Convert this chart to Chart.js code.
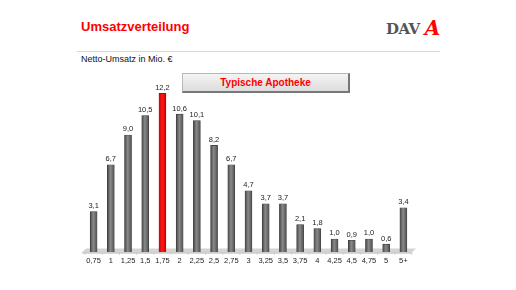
<!DOCTYPE html>
<html>
<head>
<meta charset="utf-8">
<script src="https://cdn.jsdelivr.net/npm/chart.js@4/dist/chart.umd.min.js"></script>
<style>
    html, body { margin: 0; padding: 0; background: #fff; }
    body { width: 516px; height: 290px; position: relative; overflow: hidden; font-family: 'Liberation Sans', Arial, sans-serif; }
    #chart { position: absolute; left: 0; top: 0; }
    .title { position: absolute; left: 81px; top: 19px; font-size: 13px; font-weight: bold; color: #f00; }
    .rule { position: absolute; left: 77px; top: 51px; width: 363px; height: 1px; background: #d8d8d8; }
    .subtitle { position: absolute; left: 81px; top: 54px; font-size: 9px; color: #111; }
    .badge {
        position: absolute; left: 182px; top: 73px; width: 165px; height: 17px;
        background: linear-gradient(#f4f4f4, #dcdcdc);
        border: 1px solid #b8b8b8; border-right: 2px solid #777; border-bottom: 2px solid #777;
        color: #f00; font-size: 10px; font-weight: bold; text-align: center; line-height: 17px;
    }
    .logo { position: absolute; left: 386px; top: 15px; font-family: 'DejaVu Serif', serif; font-weight: bold; font-size: 15px; color: #555; letter-spacing: -0.5px; }
    .logo span { color: #f00; font-size: 20px; margin-left: 5px; font-style: italic; position: relative; top: 1px; }
</style>
</head>
<body>
<div class="title">Umsatzverteilung</div>
<div class="logo">DAV<span>A</span></div>
<div class="rule"></div>
<div class="subtitle">Netto-Umsatz in Mio. €</div>
<canvas id="chart" width="516" height="290"></canvas>
<div class="badge">Typische Apotheke</div>
<script>
// Umsatzklassen (Mio. €) und Anteil der Apotheken
const categories = ['0,75', '1', '1,25', '1,5', '1,75', '2', '2,25', '2,5', '2,75', '3', '3,25', '3,5', '3,75', '4', '4,25', '4,5', '4,75', '5', '5+'];
const values = [3.1, 6.7, 9.0, 10.5, 12.2, 10.6, 10.1, 8.2, 6.7, 4.7, 3.7, 3.7, 2.1, 1.8, 1.0, 0.9, 1.0, 0.6, 3.4];
const highlightIndex = 4;

const FONT = "'Liberation Sans', Arial, sans-serif";

function formatValue(v) {
    return v.toFixed(1).replace('.', ',');
}

function barGradient(context) {
    const chart = context.chart;
    const xScale = chart.scales.x;
    if (!chart.chartArea || !xScale) return '#7a7a7a';
    const cx = xScale.getPixelForValue(context.dataIndex);
    const g = chart.ctx.createLinearGradient(cx - 3.5, 0, cx + 3.5, 0);
    if (context.dataIndex === highlightIndex) {
        g.addColorStop(0, '#c80000');
        g.addColorStop(0.45, '#ff1a1a');
        g.addColorStop(1, '#d00000');
    } else {
        g.addColorStop(0, '#464646');
        g.addColorStop(0.45, '#8a8a8a');
        g.addColorStop(1, '#505050');
    }
    return g;
}

// grauer 3D-Boden unter den Säulen
const floorPlugin = {
    id: 'floor',
    beforeDatasetsDraw(chart) {
        const { ctx, chartArea } = chart;
        const xScale = chart.scales.x;
        const y = chartArea.bottom;
        const x0 = chartArea.left - 3;
        const x1 = chartArea.right;
        ctx.save();
        ctx.beginPath();
        ctx.moveTo(x0, y + 0.5);
        ctx.lineTo(x0 + 4, y - 3.5);
        ctx.lineTo(x1 + 4, y - 3.5);
        ctx.lineTo(x1, y + 0.5);
        ctx.closePath();
        ctx.fillStyle = '#d4d4d4';
        ctx.fill();
        ctx.fillStyle = '#b4b4b4';
        ctx.fillRect(x0, y + 0.5, x1 - x0, 1);
        // kleine Trennstriche zwischen den Klassen
        ctx.strokeStyle = '#bdbdbd';
        ctx.lineWidth = 0.6;
        for (let i = 0; i <= categories.length; i++) {
            const x = xScale.getPixelForValue(i) - (xScale.getPixelForValue(1) - xScale.getPixelForValue(0)) / 2;
            ctx.beginPath();
            ctx.moveTo(x, y + 1);
            ctx.lineTo(x, y + 3);
            ctx.stroke();
        }
        ctx.restore();
    }
};

const valueLabels = {
    id: 'valueLabels',
    afterDatasetsDraw(chart) {
        const { ctx } = chart;
        const meta = chart.getDatasetMeta(0);
        ctx.save();
        ctx.font = '7.5px ' + FONT;
        ctx.fillStyle = '#222';
        ctx.textAlign = 'center';
        ctx.textBaseline = 'bottom';
        meta.data.forEach((bar, i) => {
            ctx.fillText(formatValue(values[i]), bar.x, bar.y - 2);
        });
        ctx.restore();
    }
};

new Chart(document.getElementById('chart').getContext('2d'), {
    type: 'bar',
    data: {
        labels: categories,
        datasets: [{
            data: values,
            backgroundColor: barGradient,
            borderColor: (c) => c.dataIndex === highlightIndex ? '#b00000' : '#3c3c3c',
            borderWidth: 0.6,
            barThickness: 7
        }]
    },
    options: {
        responsive: false,
        animation: false,
        events: [],
        layout: {
            padding: { left: 85, right: 104, top: 70, bottom: 21 }
        },
        plugins: {
            legend: { display: false },
            tooltip: { enabled: false }
        },
        scales: {
            x: {
                grid: { display: false, drawTicks: false },
                border: { display: false },
                ticks: {
                    color: '#222',
                    font: { family: FONT, size: 7.5 },
                    padding: 4,
                    autoSkip: false,
                    maxRotation: 0
                }
            },
            y: {
                display: false,
                min: 0,
                max: 14
            }
        }
    },
    plugins: [floorPlugin, valueLabels]
});
</script>
</body>
</html>
